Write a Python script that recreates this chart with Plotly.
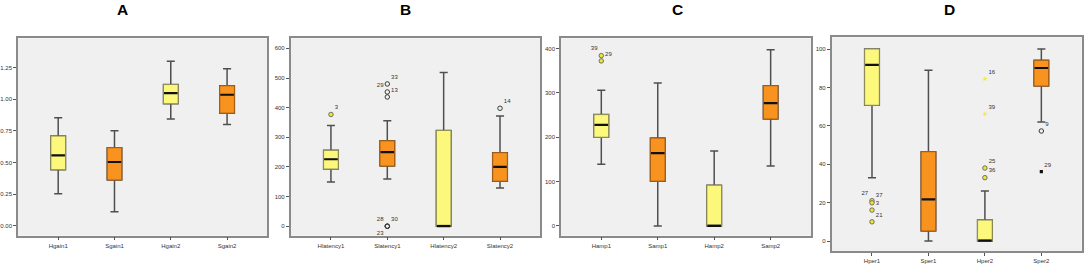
import plotly.graph_objects as go

# ---------------- data ----------------
# Panel A
cats_A = ["Hgain1", "Sgain1", "Hgain2", "Sgain2"]
lower_A = [0.255, 0.113, 0.844, 0.802]
q1_A = [0.444, 0.363, 0.965, 0.891]
med_A = [0.557, 0.505, 1.049, 1.036]
q3_A = [0.710, 0.618, 1.117, 1.107]
upper_A = [0.854, 0.752, 1.301, 1.241]
out_x_A = []
out_y_A = []
out_lab_A = []
out_kind_A = []
out_pos_A = []

# Panel B
cats_B = ["Hlatency1", "Slatency1", "Hlatency2", "Slatency2"]
lower_B = [149, 159, 0, 129]
q1_B = [193, 203, 0, 152]
med_B = [226, 250, 0, 200]
q3_B = [256, 288, 323, 248]
upper_B = [340, 356, 519, 372]
out_x_B = [0, 1, 1, 1, 1, 1, 1, 3]
out_y_B = [377, 480, 453, 436, 0, 0, 0, 398]
out_lab_B = ["3", "33", "29", "13", "28", "30", "23", "14"]
out_kind_B = ["mild"] * 8
out_pos_B = ["top right", "top right", "top left", "top right",
             "top left", "top right", "bottom left", "top right"]

# Panel C
cats_C = ["Hamp1", "Samp1", "Hamp2", "Samp2"]
lower_C = [139, 0, 0, 135]
q1_C = [200, 101, 0, 241]
med_C = [228, 164, 0, 277]
q3_C = [251, 198, 92, 316]
upper_C = [306, 322, 169, 397]
out_x_C = [0, 0]
out_y_C = [384, 372]
out_lab_C = ["39", "29"]
out_kind_C = ["mild", "mild"]
out_pos_C = ["top left", "top right"]

# Panel D
cats_D = ["Hper1", "Sper1", "Hper2", "Sper2"]
lower_D = [33.0, 0, 0, 62.0]
q1_D = [70.7, 5.2, 0, 80.7]
med_D = [91.7, 21.7, 0.2, 90.1]
q3_D = [100, 46.5, 10.9, 94.1]
upper_D = [100, 89.0, 26.0, 100]
out_x_D = [0, 0, 0, 0, 2, 2, 2, 2, 3, 3]
out_y_D = [21.0, 19.9, 16.1, 10.0, 84.4, 66.1, 38.0, 33.0, 57.3, 36.1]
out_lab_D = ["27", "37", "3", "21", "16", "39", "25", "36", "9", "29"]
out_kind_D = ["mild", "mild", "mild", "mild", "extreme", "extreme",
              "mild", "mild", "mild", "extreme"]
out_pos_D = ["top left", "top right", "top right", "top right", "top right",
             "top right", "top right", "top right", "top right", "top right"]

titles = ["A", "B", "C", "D"]

# ---------------- style ----------------
YELLOW = "#FCF87C"
ORANGE = "#F7931E"
EDGE_Y = "#8F8F5A"
EDGE_O = "#A85E12"
WHISK = "#4F4F4F"
FRAME = "#8A8A8A"
BG = "#F0F0F0"
BW = 0.26
FONT = "Liberation Sans, Arial, sans-serif"

W, H = 1084, 264
# pixel boxes of each panel frame: left, right, top, bottom
frames = [(14, 264.3, 38.3, 235.7), (287.7, 538.3, 38.3, 235.7),
          (559, 810, 38.3, 235.7), (830.7, 1081.7, 37.3, 251)]
yranges = [[-0.077, 1.482], [-32, 634], [-22, 423], [-5.2, 106.1]]
dticks = [0.25, 100, 100, 20]
tfmt = [".2f", "d", "d", "d"]
title_x = [118.6, 403, 676, 949]

panels = [
    (cats_A, lower_A, q1_A, med_A, q3_A, upper_A, out_x_A, out_y_A, out_lab_A, out_kind_A, out_pos_A),
    (cats_B, lower_B, q1_B, med_B, q3_B, upper_B, out_x_B, out_y_B, out_lab_B, out_kind_B, out_pos_B),
    (cats_C, lower_C, q1_C, med_C, q3_C, upper_C, out_x_C, out_y_C, out_lab_C, out_kind_C, out_pos_C),
    (cats_D, lower_D, q1_D, med_D, q3_D, upper_D, out_x_D, out_y_D, out_lab_D, out_kind_D, out_pos_D),
]

fig = go.Figure()
layout = {}
annotations = []

for n, (cats, lo, q1, md, q3, up, ox, oy, olab, okind, opos) in enumerate(panels, start=1):
    xa = "x" if n == 1 else f"x{n}"
    ya = "y" if n == 1 else f"y{n}"
    for i in range(len(cats)):
        fill = YELLOW if i % 2 == 0 else ORANGE
        edge = EDGE_Y if i % 2 == 0 else EDGE_O
        # whiskers + caps
        fig.add_trace(go.Box(x=[i], q1=[q1[i]], median=[md[i]], q3=[q3[i]],
                             lowerfence=[lo[i]], upperfence=[up[i]],
                             width=BW, whiskerwidth=0.55, fillcolor=fill,
                             line=dict(color=WHISK, width=1.5),
                             boxpoints=False, hoverinfo="skip",
                             xaxis=xa, yaxis=ya))
        # box body with coloured outline
        fig.add_trace(go.Box(x=[i], q1=[q1[i]], median=[md[i]], q3=[q3[i]],
                             lowerfence=[q1[i]], upperfence=[q3[i]],
                             width=BW, whiskerwidth=0, fillcolor=fill,
                             line=dict(color=edge, width=1),
                             boxpoints=False, hoverinfo="skip",
                             xaxis=xa, yaxis=ya))
    # median lines
    mx, my = [], []
    for i in range(len(cats)):
        mx += [i - BW / 2 + 0.01, i + BW / 2 - 0.01, None]
        my += [md[i], md[i], None]
    fig.add_trace(go.Scatter(x=mx, y=my, mode="lines",
                             line=dict(color="#111111", width=2.2),
                             hoverinfo="skip", xaxis=xa, yaxis=ya))
    # outliers
    for xi, yi, lab, kind, pos in zip(ox, oy, olab, okind, opos):
        is_h = xi % 2 == 0
        if kind == "mild":
            if is_h:
                mk = dict(symbol="circle", size=4.5, color="#EDE33C",
                          line=dict(color="#555555", width=0.8))
            else:
                mk = dict(symbol="circle-open", size=4.5, color="#3A3A3A",
                          line=dict(width=1))
        else:
            if is_h:
                mk = dict(symbol="star", size=4, color="#F2EA40",
                          line=dict(width=0))
            else:
                mk = dict(symbol="square", size=3.2, color="#111111",
                          line=dict(width=0))
        fig.add_trace(go.Scatter(x=[xi], y=[yi], mode="markers+text",
                                 text=[lab], textposition=pos,
                                 textfont=dict(family=FONT, size=6, color="#333333"),
                                 marker=mk, hoverinfo="skip",
                                 xaxis=xa, yaxis=ya))

    l, r, t, b = frames[n - 1]
    xkey = "xaxis" if n == 1 else f"xaxis{n}"
    ykey = "yaxis" if n == 1 else f"yaxis{n}"
    layout[xkey] = dict(domain=[l / W, r / W], range=[-0.715, 3.715],
                        tickvals=list(range(len(cats))), ticktext=cats,
                        ticks="outside", ticklen=3, tickwidth=1, tickcolor="#555555",
                        showline=True, mirror=True, linecolor=FRAME, linewidth=1.5,
                        showgrid=False, zeroline=False, anchor=ya,
                        tickfont=dict(family=FONT, size=6, color="#333333"))
    layout[ykey] = dict(domain=[(H - b) / H, (H - t) / H], range=yranges[n - 1],
                        tick0=0, dtick=dticks[n - 1], tickformat=tfmt[n - 1],
                        ticks="outside", ticklen=3, tickwidth=1, tickcolor="#555555",
                        showline=True, mirror=True, linecolor=FRAME, linewidth=1.5,
                        showgrid=False, zeroline=False, anchor=xa,
                        tickfont=dict(family=FONT, size=6, color="#333333"))
    annotations.append(dict(text="<b>%s</b>" % titles[n - 1], x=title_x[n - 1] / W,
                            y=(H - 9.5) / H, xref="paper", yref="paper",
                            xanchor="center", yanchor="middle", showarrow=False,
                            font=dict(family=FONT, size=15.5, color="#000000")))

fig.update_layout(width=W, height=H, margin=dict(l=0, r=0, t=0, b=0),
                  paper_bgcolor="white", plot_bgcolor=BG, showlegend=False,
                  boxmode="overlay", annotations=annotations, **layout)

fig.write_html("out.html", config={"displayModeBar": False},
               post_script="document.body.style.margin='0';document.body.style.overflow='hidden';")
